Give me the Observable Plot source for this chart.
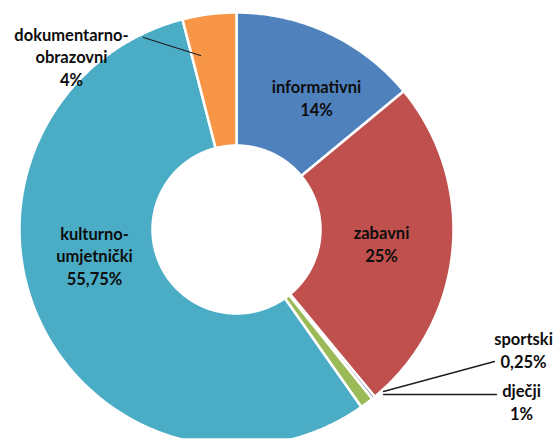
<!DOCTYPE html>
<html><head><meta charset="utf-8">
<script src="https://cdn.jsdelivr.net/npm/d3@7"></script>
<script src="https://cdn.jsdelivr.net/npm/@observablehq/plot@0.6"></script>
<style>html,body{margin:0;padding:0;background:#fff}#chart svg{display:block}</style>
</head><body><div id="chart"></div>
<script>
// ---- data ----
const categories = ["informativni", "zabavni", "sportski", "dječji", "kulturno-umjetnički", "dokumentarno-obrazovni"];
const shares = [14, 25, 0.25, 1, 55.75, 4];
const shareLabels = ["14%", "25%", "0,25%", "1%", "55,75%", "4%"];
const nameLines = [["informativni"], ["zabavni"], ["sportski"], ["dječji"], ["kulturno-", "umjetnički"], ["dokumentarno-", "obrazovni"]];
const colors = ["#4F81BD", "#C0504D", "#8064A2", "#9BBB59", "#4BACC6", "#F79646"];

// ---- layout (pixels) ----
const W = 556, H = 439;
const center = [236, 229];
const outerR = 217, innerR = 84;
const labelPos = [[316, 96.5], [381, 243], [523, 348.5], [521, 401], [94, 254.5], [71, 55.5]];
const leaders = [null, null, [[383, 391], [494, 361]], [[383, 394], [496, 394]], null, [[143, 37], [200, 55]]];

const rows = categories.map((c, i) => ({category: c, value: shares[i]}));
const arcs = d3.pie().sort(null).value(d => d.value)(rows);

function pt(r, a) { return [center[0] + r * Math.sin(a), center[1] - r * Math.cos(a)]; }
const slices = arcs.map(a => {
  const n = Math.max(2, Math.ceil((a.endAngle - a.startAngle) / (Math.PI / 360)) + 1);
  const outer = d3.range(n).map(k => pt(outerR, a.startAngle + (a.endAngle - a.startAngle) * k / (n - 1)));
  const inner = d3.range(n).map(k => pt(innerR, a.endAngle - (a.endAngle - a.startAngle) * k / (n - 1)));
  const ring = outer.concat(inner); ring.push(ring[0]);
  return {type: "Feature", properties: {category: a.data.category}, geometry: {type: "Polygon", coordinates: [ring]}};
});

const frame = {type: "Polygon", coordinates: [[[0, 0], [W, 0], [W, H], [0, H], [0, 0]]]};
const labels = categories.map((c, i) => ({x: labelPos[i][0], y: labelPos[i][1], text: nameLines[i].concat([shareLabels[i]]).join("\n")}));
const leaderLines = leaders.filter(d => d).map(l => ({type: "Feature", properties: {}, geometry: {type: "LineString", coordinates: l}}));

const chart = Plot.plot({
  width: W, height: H, margin: 0,
  projection: {type: "identity", domain: frame},
  color: {domain: categories, range: colors},
  style: {fontFamily: "Lato, 'Open Sans', sans-serif", background: "#fff"},
  marks: [
    Plot.geo(slices, {fill: d => d.properties.category, stroke: "#fff", strokeWidth: 2.5}),
    Plot.geo(leaderLines, {fill: "none", stroke: "#1e1e1e", strokeWidth: 1.3}),
    Plot.text(labels, {x: "x", y: "y", text: "text", fill: "#0d0d0d", fontSize: 16.5, fontWeight: "bold", lineHeight: 1.37, textAnchor: "middle"})
  ]
});
document.getElementById("chart").appendChild(chart);
</script></body></html>
